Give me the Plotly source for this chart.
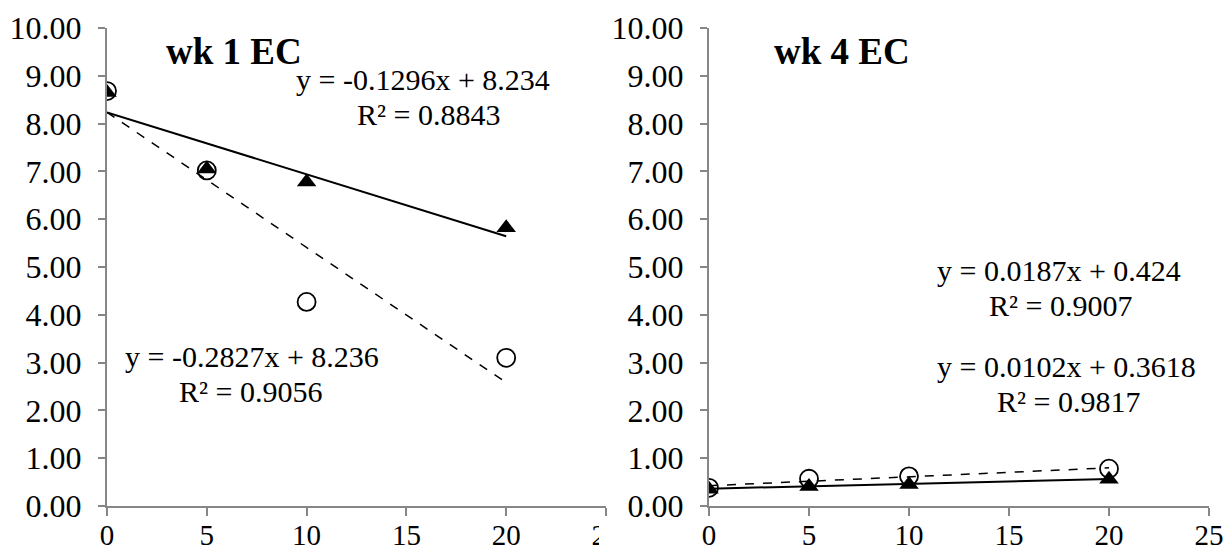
import plotly.graph_objects as go

# ---- data ----
x_vals = [0, 5, 10, 20]
wk1_circle = [8.68, 7.02, 4.27, 3.10]
wk1_triangle = [8.65, 7.05, 6.78, 5.82]
wk4_circle = [0.38, 0.57, 0.62, 0.78]
wk4_triangle = [0.35, 0.41, 0.45, 0.56]

# trendline coefficients (slope, intercept) from the chart labels
wk1_circle_fit = (-0.2827, 8.236)
wk1_triangle_fit = (-0.1296, 8.234)
wk4_circle_fit = (0.0187, 0.424)
wk4_triangle_fit = (0.0102, 0.3618)
r2_labels = {"wk1_tri": "R² = 0.8843", "wk1_circ": "R² = 0.9056",
             "wk4_circ": "R² = 0.9007", "wk4_tri": "R² = 0.9817"}

y_ticks = [0, 1, 2, 3, 4, 5, 6, 7, 8, 9, 10]
x_ticks = [0, 5, 10, 15, 20, 25]
titles = ["wk 1 EC", "wk 4 EC"]

W, H = 1224, 557
FONT = "Liberation Serif"
AX = "#868686"

fig = go.Figure()

def px(x):
    return x / W

def py(y):
    return 1 - y / H

xdom1 = (px(107), px(606))
xdom2 = (px(709), px(1209))
ydom = (py(506), py(28))

def add_panel(xa, ya, circ, tri, cfit, tfit):
    xs = [x_vals[0], x_vals[-1]]
    fig.add_trace(go.Scatter(x=xs, y=[cfit[0] * v + cfit[1] for v in xs], mode="lines",
                             line=dict(color="black", width=1.5, dash="dash"),
                             xaxis=xa, yaxis=ya, showlegend=False, hoverinfo="skip"))
    fig.add_trace(go.Scatter(x=xs, y=[tfit[0] * v + tfit[1] for v in xs], mode="lines",
                             line=dict(color="black", width=2),
                             xaxis=xa, yaxis=ya, showlegend=False, hoverinfo="skip"))
    fig.add_trace(go.Scatter(x=x_vals, y=circ, mode="markers",
                             marker=dict(symbol="circle-open", size=18, color="black",
                                         line=dict(width=1.8, color="black")),
                             xaxis=xa, yaxis=ya, showlegend=False))
    fig.add_trace(go.Scatter(x=x_vals, y=tri, mode="markers",
                             marker=dict(symbol="triangle-up", size=17, color="black"),
                             xaxis=xa, yaxis=ya, showlegend=False))

add_panel("x", "y", wk1_circle, wk1_triangle, wk1_circle_fit, wk1_triangle_fit)
add_panel("x2", "y2", wk4_circle, wk4_triangle, wk4_circle_fit, wk4_triangle_fit)

axis_common = dict(showgrid=False, zeroline=False, showline=True, linecolor=AX, linewidth=2,
                   ticks="outside", tickcolor=AX, tickwidth=2, automargin=False)
xfont = dict(family=FONT, size=29, color="black")
yfont = dict(family=FONT, size=32, color="black")

fig.update_layout(
    width=W, height=H, margin=dict(l=0, r=0, t=0, b=0),
    paper_bgcolor="white", plot_bgcolor="white",
    xaxis=dict(domain=list(xdom1), range=[0, 25], tickvals=x_ticks, anchor="y",
               ticklen=8, ticklabelstandoff=-6, tickfont=xfont, **axis_common),
    yaxis=dict(domain=list(ydom), range=[0, 10], tickvals=y_ticks, tickformat=".2f", anchor="x",
               ticklen=7, ticklabelstandoff=10, tickfont=yfont, **axis_common),
    xaxis2=dict(domain=list(xdom2), range=[0, 25], tickvals=x_ticks, anchor="y2",
                ticklen=8, ticklabelstandoff=-6, tickfont=xfont, **axis_common),
    yaxis2=dict(domain=list(ydom), range=[0, 10], tickvals=y_ticks, tickformat=".2f", anchor="x2",
                ticklen=7, ticklabelstandoff=10, tickfont=yfont, **axis_common),
)

def ann(text, xc, yc, size=30, bold=False, xanchor="center"):
    fig.add_annotation(text=("<b>%s</b>" % text) if bold else text,
                       x=px(xc), y=py(yc), xref="paper", yref="paper",
                       xanchor=xanchor, yanchor="middle", showarrow=False,
                       font=dict(family=FONT, size=size, color="black"))

ann(titles[0], 164, 52, size=37, bold=True, xanchor="left")
ann(titles[1], 772, 52, size=37, bold=True, xanchor="left")

def eq(fit):
    s, b = fit
    sign = "+" if b >= 0 else "-"
    return "y = %sx %s %s" % (("%g" % s), sign, ("%g" % abs(b)))

ann(eq(wk1_triangle_fit), 423, 80)
ann(r2_labels["wk1_tri"], 428, 114)
ann(eq(wk1_circle_fit), 252, 356)
ann(r2_labels["wk1_circ"], 250, 391)
ann(eq(wk4_circle_fit), 1059, 270)
ann(r2_labels["wk4_circ"], 1060, 305)
ann(eq(wk4_triangle_fit), 1066, 366)
ann(r2_labels["wk4_tri"], 1068, 401)

# right chart's area hides the right part of the left chart's last tick label
fig.add_shape(type="rect", xref="paper", yref="paper", x0=px(599), x1=px(624), y0=0, y1=py(522),
              fillcolor="white", line=dict(width=0), layer="above")

fig.write_html("out.html")
